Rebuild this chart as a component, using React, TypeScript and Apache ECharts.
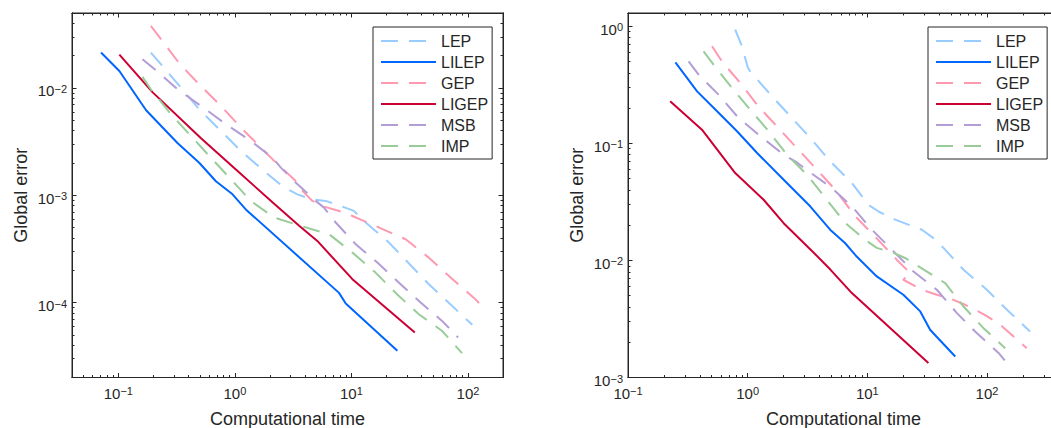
import React, { useEffect, useRef } from "react";
import * as echarts from "echarts";

type Pt = [number, number];

const SERIES_NAMES = ["LEP", "LILEP", "GEP", "LIGEP", "MSB", "IMP"];
const SERIES_COLORS = ["#99CCFF", "#0066FF", "#FF99B0", "#CC0033", "#B39DD6", "#99CC99"];
const SERIES_DASHED = [true, false, true, false, true, true];

const X_LABEL = "Computational time";
const Y_LABEL = "Global error";

// ---------- left panel ----------
const L_X_RANGE: Pt = [0.04, 200];
const L_Y_RANGE: Pt = [2e-5, 0.05];
const L_X_MAJOR = [0.1, 1, 10, 100];
const L_Y_MAJOR = [1e-4, 1e-3, 1e-2];

const L_LEP: Pt[] = [
  [0.19, 0.0214], [0.344, 0.0101], [0.494, 0.00633], [0.759, 0.00397], [1.125, 0.00259],
  [1.78, 0.00168], [2.64, 0.00118], [3.44, 0.00102], [4.48, 0.000918], [6.02, 0.000886],
  [8.36, 0.000785], [10.5, 0.000715], [12.8, 0.000576], [21, 0.000362], [46.2, 0.000148],
  [109, 0.000062],
];
const L_LILEP: Pt[] = [
  [0.071, 0.0214], [0.102, 0.0144], [0.173, 0.0062], [0.323, 0.00305], [0.494, 0.00201],
  [0.687, 0.00135], [0.955, 0.00102], [1.24, 0.000738], [7.83, 0.000123], [8.94, 0.000098],
  [24.8, 0.0000356],
];
const L_GEP: Pt[] = [
  [0.19, 0.0379], [0.334, 0.0169], [0.494, 0.0108], [0.759, 0.0068], [1.125, 0.00427],
  [1.33, 0.00357], [2.1, 0.00217], [3.33, 0.00136], [3.68, 0.00114], [4.63, 0.000885],
  [5.63, 0.000794], [7.83, 0.000714], [10.2, 0.000641], [17.3, 0.0005], [29.2, 0.000389],
  [46.2, 0.000262], [71, 0.000171], [112, 0.000111], [132, 0.000093],
];
const L_LIGEP: Pt[] = [
  [0.102, 0.0205], [0.197, 0.0091], [0.512, 0.0034], [1.09, 0.00163], [2.1, 0.00086],
  [3.56, 0.00052], [5.1, 0.000375], [10.2, 0.000165], [35, 0.0000525],
];
const L_MSB: Pt[] = [
  [0.161, 0.0185], [0.21, 0.0146], [0.322, 0.00972], [0.527, 0.00665], [0.837, 0.00459],
  [1.37, 0.00321], [2.1, 0.00224], [2.48, 0.00181], [3.22, 0.00136], [4.94, 0.000886],
  [5.82, 0.000767], [7.33, 0.000557], [10.9, 0.000349], [16.7, 0.000236], [25.6, 0.000153],
  [39.3, 0.0001], [60, 0.0000674], [82.4, 0.0000472],
];
const L_IMP: Pt[] = [
  [0.161, 0.0127], [0.19, 0.00972], [0.283, 0.00569], [0.42, 0.00357], [0.622, 0.00224],
  [0.925, 0.00141], [1.37, 0.000886], [2.17, 0.00062], [3.68, 0.000518], [6.43, 0.000433],
  [10.2, 0.000292], [16.1, 0.00019], [24.7, 0.000119], [37.9, 0.0000778], [60.1, 0.0000543],
  [89, 0.0000337],
];

// ---------- right panel ----------
const R_X_RANGE: Pt = [0.1, 400];
const R_Y_RANGE: Pt = [1e-3, 1.3];
const R_X_MAJOR = [0.1, 1, 10, 100];
const R_Y_MAJOR = [1e-3, 1e-2, 1e-1, 1];

const R_LEP: Pt[] = [
  [0.787, 0.937], [0.896, 0.675], [1.0, 0.45], [1.05, 0.412], [1.6, 0.252], [2.34, 0.165],
  [3.44, 0.1076], [4.9, 0.0702], [7.43, 0.0459], [10.2, 0.0299], [12.4, 0.0262],
  [17.1, 0.0223], [28.6, 0.0183], [35.7, 0.0155], [43.3, 0.0128], [63.7, 0.00833],
  [99.8, 0.00562], [147, 0.00379], [229, 0.00247],
];
const R_LILEP: Pt[] = [
  [0.249, 0.492], [0.378, 0.278], [0.555, 0.188], [0.815, 0.127], [1.2, 0.0827], [2.0, 0.0489],
  [3.33, 0.029], [4.89, 0.0183], [6.51, 0.0141], [8.15, 0.0108], [12, 0.0073], [20, 0.00509],
  [27.7, 0.00367], [33.5, 0.00256], [37.8, 0.00224], [54.3, 0.00151],
];
const R_GEP: Pt[] = [
  [0.504, 0.675], [0.61, 0.502], [0.867, 0.328], [1.23, 0.207], [1.81, 0.135], [2.58, 0.0914],
  [3.79, 0.0596], [5.4, 0.0402], [7.94, 0.0238], [11.6, 0.016], [17.7, 0.0101], [22.8, 0.0078],
  [20.0, 0.00684], [28.6, 0.00562], [38.1, 0.00509], [52.5, 0.00461], [65.7, 0.00418],
  [95, 0.00345], [125, 0.0029], [215, 0.00178],
];
const R_LIGEP: Pt[] = [
  [0.225, 0.229], [0.415, 0.131], [0.787, 0.0558], [1.36, 0.033], [2.0, 0.0208], [3.55, 0.0117],
  [4.89, 0.0084], [7.43, 0.00526], [32.4, 0.00133],
];
const R_MSB: Pt[] = [
  [0.321, 0.502], [0.389, 0.387], [0.571, 0.261], [0.839, 0.165], [1.23, 0.119], [2.0, 0.08],
  [2.5, 0.0702], [3.23, 0.0577], [5.06, 0.0416], [7.43, 0.029], [10.6, 0.0189], [15.5, 0.0128],
  [24.3, 0.00805], [38.1, 0.00562], [56.1, 0.00355], [79.6, 0.00247], [125, 0.00162],
  [147, 0.00133],
];
const R_IMP: Pt[] = [
  [0.428, 0.611], [0.519, 0.471], [0.74, 0.297], [1.05, 0.194], [1.5, 0.127], [2.13, 0.08],
  [3.13, 0.054], [4.59, 0.033], [6.53, 0.0209], [9.59, 0.015], [12, 0.0128], [16.6, 0.0116],
  [20.7, 0.0105], [26.8, 0.0089], [44.8, 0.0064], [63.7, 0.00404], [93.6, 0.00264],
  [142, 0.00178],
];

const LEFT_SERIES = [L_LEP, L_LILEP, L_GEP, L_LIGEP, L_MSB, L_IMP];
const RIGHT_SERIES = [R_LEP, R_LILEP, R_GEP, R_LIGEP, R_MSB, R_IMP];

const MINOR_MULTIPLIERS = [2, 3, 4, 5, 6, 7, 8, 9];
const DECADES = [1e-5, 1e-4, 1e-3, 1e-2, 1e-1, 1, 10, 100];

const AXIS_COLOR = "#262626";
const FONT = "'Liberation Sans', Arial, Helvetica, sans-serif";

function minorTicks(range: Pt): number[] {
  const out: number[] = [];
  DECADES.forEach((d) =>
    MINOR_MULTIPLIERS.forEach((m) => {
      const v = d * m;
      if (v > range[0] * 1.0001 && v < range[1] * 0.9999) out.push(v);
    })
  );
  return out;
}

function labelFormatter(v: number): string {
  const e = Math.log10(v);
  const r = Math.round(e);
  if (Math.abs(e - r) > 1e-6) return "";
  const exp = r < 0 ? "\u2212" + String(-r) : String(r);
  return `{b|10}{s|${exp}}`;
}

const richLabel = {
  b: { fontSize: 15, color: AXIS_COLOR, fontFamily: FONT, lineHeight: 15, padding: [3.5, 0, 0, 0], verticalAlign: "bottom" },
  s: { fontSize: 11, color: AXIS_COLOR, fontFamily: FONT, lineHeight: 11, verticalAlign: "top" },
};

const nameStyle = { fontSize: 18, color: AXIS_COLOR, fontFamily: FONT };
const axisLineStyle = { show: true, onZero: false, lineStyle: { color: AXIS_COLOR, width: 1 } };

function tickAxis(idx: number, r: Pt, position: string, values: number[], len: number) {
  return {
    type: "log",
    logBase: 10,
    gridIndex: idx,
    position,
    min: r[0],
    max: r[1],
    axisLine: axisLineStyle,
    axisTick: { show: true, inside: true, length: len, lineStyle: { color: AXIS_COLOR, width: 1 }, customValues: values },
    axisLabel: { show: false },
    splitLine: { show: false },
    silent: true,
  };
}

function xAxesFor(idx: number, r: Pt, major: number[]) {
  const minor = minorTicks(r);
  const main = {
    type: "log",
    logBase: 10,
    gridIndex: idx,
    position: "bottom",
    min: r[0],
    max: r[1],
    axisLine: axisLineStyle,
    axisTick: { show: true, inside: true, length: 4.5, lineStyle: { color: AXIS_COLOR, width: 1 }, customValues: major },
    splitLine: { show: false },
    axisLabel: { formatter: labelFormatter, rich: richLabel, margin: 8, customValues: major, hideOverlap: false },
    name: X_LABEL,
    nameLocation: "middle",
    nameGap: 32,
    nameTextStyle: nameStyle,
  };
  return [
    main,
    tickAxis(idx, r, "bottom", minor, 2.5),
    tickAxis(idx, r, "top", major, 4.5),
    tickAxis(idx, r, "top", minor, 2.5),
  ];
}

function yAxesFor(idx: number, r: Pt, major: number[]) {
  const minor = minorTicks(r);
  const main = {
    type: "log",
    logBase: 10,
    gridIndex: idx,
    position: "left",
    min: r[0],
    max: r[1],
    axisLine: axisLineStyle,
    axisTick: { show: true, inside: true, length: 4.5, lineStyle: { color: AXIS_COLOR, width: 1 }, customValues: major },
    splitLine: { show: false },
    axisLabel: { formatter: labelFormatter, rich: richLabel, margin: 5, padding: [6, 0, 0, 0], customValues: major, hideOverlap: false },
    name: Y_LABEL,
    nameLocation: "middle",
    nameGap: 42,
    nameTextStyle: nameStyle,
  };
  return [
    main,
    tickAxis(idx, r, "left", minor, 2.5),
    tickAxis(idx, r, "right", major, 4.5),
    tickAxis(idx, r, "right", minor, 2.5),
  ];
}

function lineSeries(axisIdx: number, sets: Pt[][]) {
  return sets.map((d, i) => ({
    type: "line",
    name: SERIES_NAMES[i],
    xAxisIndex: axisIdx,
    yAxisIndex: axisIdx,
    data: d,
    symbol: "none",
    showSymbol: false,
    smooth: false,
    color: SERIES_COLORS[i],
    lineStyle: {
      color: SERIES_COLORS[i],
      width: 2,
      type: SERIES_DASHED[i] ? [17, 11] : "solid",
    },
    z: 2,
  }));
}

function legend(left: number) {
  return {
    data: SERIES_NAMES,
    orient: "vertical",
    left,
    top: 27,
    itemWidth: 55,
    itemHeight: 14,
    itemGap: 5,
    padding: [6, 4, 5, 7],
    backgroundColor: "#ffffff",
    borderColor: AXIS_COLOR,
    borderWidth: 1,
    borderRadius: 0,
    selectedMode: false,
    itemStyle: { color: "rgba(0,0,0,0)", borderColor: "rgba(0,0,0,0)", borderWidth: 0 },
    textStyle: { fontSize: 16, lineHeight: 14, color: AXIS_COLOR, fontFamily: FONT },
  };
}

const gridBase = {
  top: 13,
  width: 431,
  height: 364.5,
  show: true,
  borderColor: AXIS_COLOR,
  borderWidth: 1,
  backgroundColor: "transparent",
  containLabel: false,
  outerBoundsMode: "none",
};

export default function App() {
  const ref = useRef<HTMLDivElement>(null);
  useEffect(() => {
    document.body.style.margin = "0";
    if (!ref.current) return;
    const chart = echarts.init(ref.current, undefined, { renderer: "svg" });
    chart.setOption({
      animation: false,
      backgroundColor: "#ffffff",
      textStyle: { fontFamily: FONT },
      grid: [
        { ...gridBase, left: 72 },
        { ...gridBase, left: 628 },
      ],
      xAxis: [...xAxesFor(0, L_X_RANGE, L_X_MAJOR), ...xAxesFor(1, R_X_RANGE, R_X_MAJOR)],
      yAxis: [...yAxesFor(0, L_Y_RANGE, L_Y_MAJOR), ...yAxesFor(1, R_Y_RANGE, R_Y_MAJOR)],
      legend: [legend(373), legend(928)],
      series: [...lineSeries(0, LEFT_SERIES), ...lineSeries(4, RIGHT_SERIES)],
    });
    return () => chart.dispose();
  }, []);
  return <div ref={ref} style={{ width: 1051, height: 428 }} />;
}
